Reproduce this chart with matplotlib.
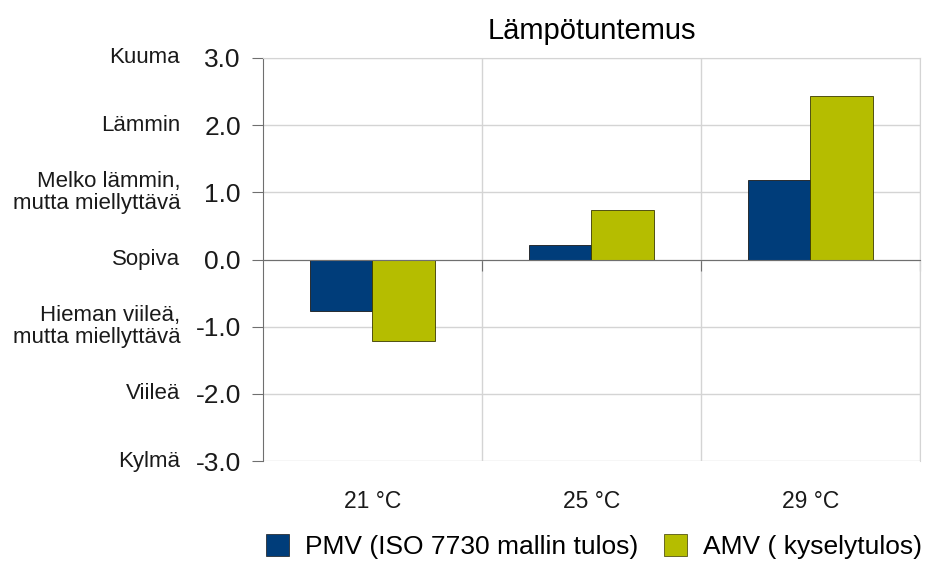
import numpy as np
import matplotlib.pyplot as plt
from matplotlib.patches import Patch
from matplotlib.transforms import blended_transform_factory

plt.rcParams['font.family'] = ['Liberation Sans', 'DejaVu Sans']

categories = ['21 °C', '25 °C', '29 °C']
pmv = [-0.76, 0.21, 1.19]
amv = [-1.21, 0.73, 2.44]
series_names = ['PMV (ISO 7730 mallin tulos)', 'AMV ( kyselytulos)']
yticks = [3, 2, 1, 0, -1, -2, -3]
scale_labels = ['Kuuma', 'Lämmin', 'Melko lämmin,\nmutta miellyttävä', 'Sopiva',
                'Hieman viileä,\nmutta miellyttävä', 'Viileä', 'Kylmä']

blue = '#003d7a'
green = '#b5bd00'
grid_c = '#d4d4d4'
axis_c = '#6f6f6f'

fig = plt.figure(figsize=(9.31, 5.62), dpi=100)
ax = fig.add_axes([0.2825, 0.1797, 0.7055, 0.7171])

x = np.arange(len(categories))
w = 0.285
ax.bar(x - w / 2, pmv, w, color=blue, edgecolor='#1a1a1a', linewidth=0.6, zorder=3)
ax.bar(x + w / 2, amv, w, color=green, edgecolor='#3a3a00', linewidth=0.6, zorder=3)

ax.set_xlim(-0.5, 2.5)
ax.set_ylim(-3, 3)
ax.set_yticks(yticks)
ax.set_yticklabels(['%.1f' % v for v in yticks], fontsize=19)
ax.set_xticks(x + 0.5)
ax.set_xticklabels([])
ax.grid(True, color=grid_c, linewidth=1, zorder=0)

ax.spines['bottom'].set_position(('data', 0))
ax.spines['bottom'].set_color(axis_c)
ax.spines['bottom'].set_zorder(4)
ax.spines['left'].set_color(axis_c)
ax.spines['top'].set_color(grid_c)
ax.spines['right'].set_color(grid_c)
ax.tick_params(axis='x', direction='out', length=8, color=axis_c)
ax.tick_params(axis='y', direction='out', length=8, color=axis_c, pad=8, labelcolor='#1a1a1a')

trans = blended_transform_factory(ax.transAxes, ax.transData)
for v, lab in zip(yticks, scale_labels):
    ax.text(-0.126, v, lab, transform=trans, ha='right', va='center',
            fontsize=16, color='#1a1a1a', linespacing=1.1)

ctrans = blended_transform_factory(ax.transData, ax.transAxes)
for xi, lab in zip(x, categories):
    ax.text(xi, -0.1, lab, transform=ctrans, ha='center', va='center',
            fontsize=16.5, color='#1a1a1a')

ax.set_title('Lämpötuntemus', fontsize=21, pad=14)

handles = [Patch(facecolor=blue, edgecolor='#1a1a1a', linewidth=0.5),
           Patch(facecolor=green, edgecolor='#3a3a00', linewidth=0.5)]
fig.legend(handles, series_names, loc='center', bbox_to_anchor=(0.638, 0.027),
           ncol=2, frameon=False, fontsize=19, handlelength=0.85, handleheight=0.85,
           handletextpad=0.6, columnspacing=1.0, borderaxespad=0)

fig.savefig('out.png', dpi=100)
